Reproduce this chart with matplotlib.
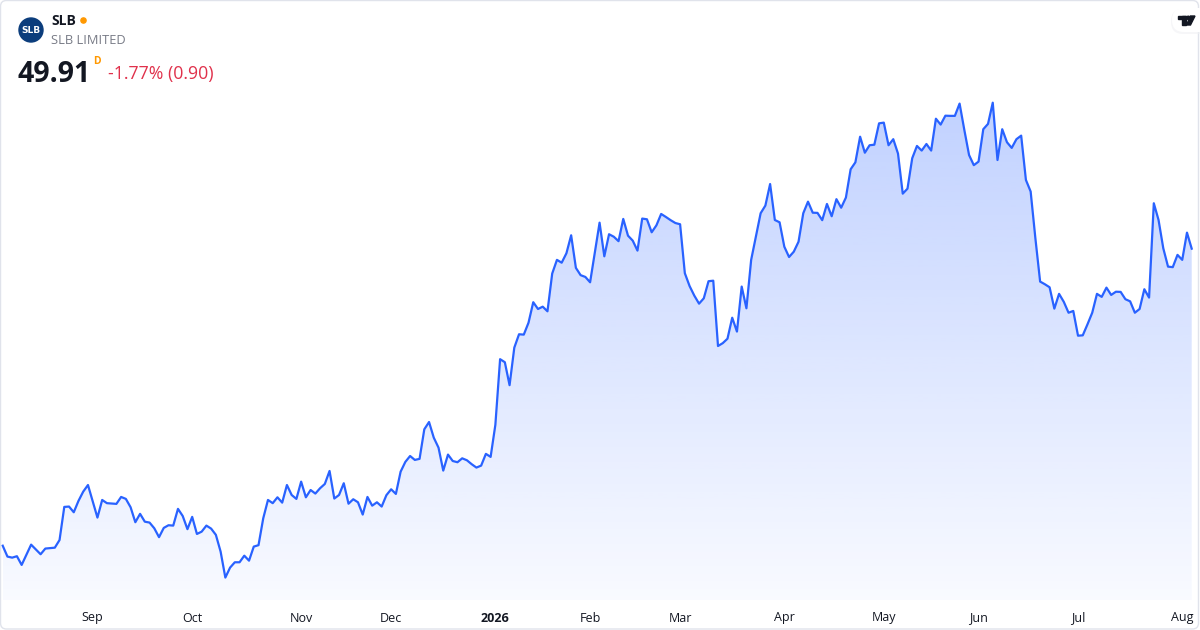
import numpy as np
import matplotlib
matplotlib.use("Agg")
import matplotlib.pyplot as plt
from matplotlib.patches import FancyBboxPatch, Circle, Polygon, Rectangle
import matplotlib.transforms as mtransforms

# ---------------- data ----------------
ticker = "SLB"
company = "SLB LIMITED"
last_price = "49.91"
change_text = "-1.77% (0.90)"

first_day = "2025-08-05"
last_day = "2026-08-06"
market_holidays = ["2025-09-01", "2025-11-27", "2025-12-25", "2026-01-01", "2026-01-19",
                   "2026-02-16", "2026-04-03", "2026-05-25", "2026-06-19", "2026-07-03"]

# trading-day number (0 = first_day) and daily close
day_idx = [0, 1, 2, 3, 4, 6, 8, 9, 11, 12, 13, 14, 15, 16, 17, 18, 20, 21, 22, 23, 24, 25, 26, 27, 28, 29,
           30, 31, 32, 33, 34, 35, 36, 37, 38, 39, 40, 41, 42, 43, 44, 45, 46, 47, 48, 49, 50, 51, 52, 53,
           54, 55, 56, 57, 58, 59, 60, 61, 62, 63, 64, 65, 66, 67, 68, 69, 70, 71, 72, 73, 74, 75, 76, 77,
           78, 79, 80, 81, 82, 83, 84, 85, 86, 87, 88, 89, 90, 91, 92, 93, 94, 95, 96, 97, 98, 99, 100,
           101, 102, 103, 104, 105, 106, 107, 108, 109, 110, 111, 112, 113, 114, 115, 116, 117, 118, 119,
           120, 121, 122, 123, 124, 125, 126, 127, 128, 129, 130, 131, 132, 133, 134, 135, 136, 137, 138,
           139, 140, 141, 142, 143, 144, 145, 146, 147, 148, 149, 150, 151, 152, 153, 154, 155, 156, 157,
           158, 159, 160, 161, 162, 163, 164, 165, 166, 167, 168, 169, 170, 171, 172, 173, 174, 175, 176,
           177, 178, 179, 180, 181, 182, 183, 184, 185, 186, 187, 188, 189, 190, 191, 192, 193, 194, 195,
           196, 197, 198, 199, 200, 201, 202, 203, 204, 205, 206, 207, 208, 209, 210, 211, 212, 213, 214,
           215, 216, 217, 218, 219, 220, 221, 222, 223, 224, 225, 226, 227, 228, 229, 230, 231, 232, 233,
           234, 235, 236, 237, 238, 239, 240, 241, 242, 243, 244, 245, 246, 247, 248, 249, 250, 251]
close = [33.22, 32.61, 32.55, 32.63, 32.14, 33.28, 32.74, 33.06, 33.11, 33.54, 35.40, 35.42, 35.10, 35.74,
         36.26, 36.63, 34.80, 35.79, 35.61, 35.59, 35.57, 35.96, 35.85, 35.38, 34.54, 35.01,
         34.57, 34.52, 34.20, 33.70, 34.22, 34.37, 34.35, 35.29, 34.89, 34.15, 34.84, 33.88, 34.01, 34.35,
         34.18, 33.83, 32.89, 31.43, 31.99, 32.29, 32.29, 32.66, 32.38, 33.17,
         33.25, 34.76, 35.79, 35.61, 35.94, 35.64, 36.63, 36.07, 35.85, 36.82, 35.94, 36.35, 36.15, 36.45,
         36.69, 37.42, 35.87, 36.07, 36.73, 35.58, 35.83, 35.66, 34.97, 35.96,
         35.47, 35.66, 35.42, 36.06, 36.39, 36.13, 37.38, 37.93, 38.26, 38.04, 38.10, 39.76, 40.17, 39.29,
         38.73, 37.44, 38.34, 37.98, 37.91, 38.13, 38.02, 37.80, 37.61,
         37.72, 38.38, 38.21, 40.01, 43.70, 43.53, 42.24, 44.35, 45.10, 45.08, 45.75, 46.90, 46.52, 46.65,
         46.39, 48.51, 49.28, 49.12, 49.65,
         50.66, 48.83, 48.42, 48.32, 48.02, 49.69, 51.37, 49.48, 50.72, 50.58, 50.33, 51.58, 50.64, 50.36,
         49.80, 51.60, 51.56, 50.83, 51.22,
         51.86, 51.69, 51.51, 51.35, 51.28, 48.53, 47.81, 47.27, 46.82, 47.12, 48.08, 48.11, 44.44, 44.60,
         44.85, 46.03, 45.25, 47.78, 46.56,
         49.28, 50.58, 51.90, 52.33, 53.54, 51.52, 51.39, 50.02, 49.44, 49.74, 50.30, 51.90, 52.55, 51.93,
         51.92, 51.51, 52.42, 51.73, 52.69,
         52.21, 52.78, 54.37, 54.76, 56.20, 55.30, 55.72, 55.75, 56.95, 56.99, 55.72, 56.06, 55.25, 53.00,
         53.28, 54.99, 55.68, 55.42, 55.79,
         55.42, 57.21, 56.88, 57.38, 57.37, 57.37, 58.06, 56.58, 55.17, 54.60, 54.80, 56.62, 56.92, 58.11,
         54.89, 56.62, 55.89, 55.57, 56.06,
         56.26, 53.77, 53.12, 50.49, 48.06, 47.91, 47.74, 46.54, 47.37, 46.92, 46.31, 46.41, 45.02, 45.04,
         45.66, 46.31, 47.37, 47.20, 47.72,
         47.31, 47.49, 47.48, 47.07, 46.95, 46.31, 46.52, 47.63, 47.16, 52.46, 51.52, 49.93, 48.90, 48.87,
         49.56, 49.28, 50.81, 49.91]

month_starts = ["2025-09", "2025-10", "2025-11", "2025-12", "2026-01", "2026-02",
                "2026-03", "2026-04", "2026-05", "2026-06", "2026-07", "2026-08"]
month_labels = ["Sep", "Oct", "Nov", "Dec", "2026", "Feb", "Mar", "Apr", "May", "Jun", "Jul", "Aug"]

# ---------------- calendar ----------------
all_days = np.arange(np.datetime64(first_day), np.datetime64(last_day) + 1, dtype="datetime64[D]")
trading_days = all_days[np.is_busday(all_days, holidays=market_holidays)]
trading_months = trading_days.astype("datetime64[M]").astype(str)
tick_pos = [int(np.argmax(trading_months == m)) for m in month_starts]

x = np.array(day_idx, dtype=float)
y = np.array(close, dtype=float)

# ---------------- figure ----------------
W, H = 1200, 630
fig = plt.figure(figsize=(W / 100, H / 100), dpi=100)
fig.patch.set_facecolor("white")

ax = fig.add_axes([0, 30 / H, 1, 600 / H])
ax.set_xlim(-0.57, 252.75)
ax.set_ylim(30.17, 63.88)
ax.axis("off")

LINE = "#2962FF"
ybot = ax.get_ylim()[0]

# gradient fill under the line
poly = Polygon(np.vstack([np.column_stack([x, y]), [[x[-1], ybot], [x[0], ybot]]]),
               closed=True, facecolor="none", edgecolor="none")
ax.add_patch(poly)
n = 256
alpha = np.linspace(0.03, 0.29, n)[:, None]
grad = np.zeros((n, 1, 4))
grad[..., 0] = 41 / 255
grad[..., 1] = 98 / 255
grad[..., 2] = 1.0
grad[..., 3] = alpha
im = ax.imshow(grad, extent=[x[0], x[-1], ybot, y.max()], origin="lower",
               aspect="auto", interpolation="bilinear", zorder=1)
im.set_clip_path(poly)
ax.set_xlim(-0.57, 252.75)
ax.set_ylim(30.17, 63.88)

ax.plot(x, y, color=LINE, lw=1.6, solid_joinstyle="round", zorder=3)

# month labels on the time scale
trans = mtransforms.blended_transform_factory(ax.transData, fig.transFigure)
for pos, lab in zip(tick_pos, month_labels):
    ax.text(pos, 1 - 618 / H, lab, transform=trans, ha="center", va="center",
            fontsize=9, color="#131722", family="Open Sans",
            fontweight="bold" if lab == "2026" else "normal")

# ---------------- overlay (header, logos, frame) ----------------
ov = fig.add_axes([0, 0, 1, 1], zorder=5)
ov.set_xlim(0, W)
ov.set_ylim(H, 0)
ov.axis("off")
ov.patch.set_alpha(0)

ov.add_patch(FancyBboxPatch((0.5, 0.5), W - 2, H - 1.5, boxstyle="round,pad=0,rounding_size=6",
                            facecolor="none", edgecolor="#e0e3eb", lw=1.0))

ov.add_patch(Circle((31, 30), 12, color="#0b3d7c"))
ov.text(31, 30.5, "SLB", color="white", fontsize=6.5, fontweight="bold", ha="center", va="center",
        family="Liberation Sans Narrow")
ov.text(51, 21, ticker, fontsize=10, fontweight="bold", color="#131722", ha="left", va="center",
        family="Open Sans")
ov.add_patch(Circle((83.5, 20.5), 2.6, color="#ff9800"))
ov.text(51, 40.5, company, fontsize=9.3, color="#787b86", ha="left", va="center", family="Open Sans")
ov.text(17.5, 82, last_price, fontsize=20.5, fontweight="bold", color="#131722", ha="left",
        va="baseline", family="Open Sans")
ov.text(93, 61, "D", fontsize=7.5, fontweight="bold", color="#ff9800", ha="left", va="center",
        family="Open Sans")
ov.text(107.5, 74, change_text, fontsize=12.8, color="#e0314b", ha="left", va="center",
        family="Open Sans")

# TradingView badge
ov.add_patch(FancyBboxPatch((1171, 9), 40, 25, boxstyle="round,pad=0,rounding_size=12",
                            facecolor="#f0f1f4", edgecolor="none", alpha=0.6))
ov.add_patch(FancyBboxPatch((1172, 8), 40, 24, boxstyle="round,pad=0,rounding_size=12",
                            facecolor="white", edgecolor="none"))
ov.add_patch(Rectangle((1178, 16), 8, 3, color="#131722"))
ov.add_patch(Rectangle((1182, 16), 3.5, 9, color="#131722"))
ov.add_patch(Circle((1188.3, 17.8), 1.6, color="#131722"))
ov.add_patch(Polygon([[1190.5, 16], [1195, 16], [1190.5, 25], [1186.5, 25]], closed=True,
                     color="#131722"))

fig.savefig("out.png", dpi=100, facecolor="white")
